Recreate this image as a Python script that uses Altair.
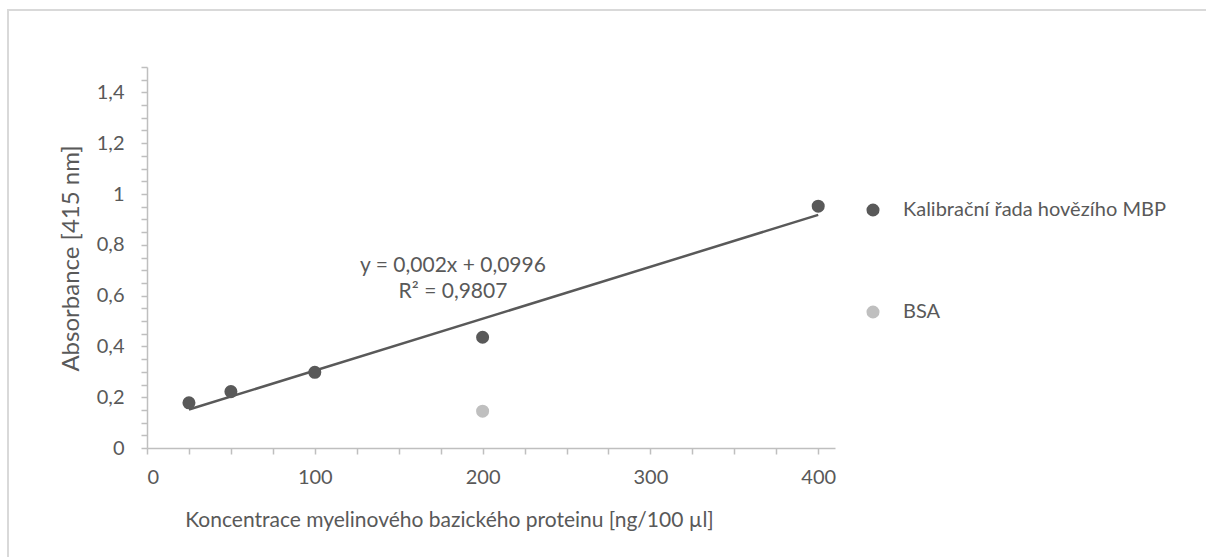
import altair as alt
import pandas as pd

# ---- data ----
mbp_conc = [25, 50, 100, 200, 400]
mbp_abs = [0.178, 0.222, 0.298, 0.436, 0.952]
bsa_conc = [200]
bsa_abs = [0.145]

series_names = ["Kalibrační řada hovězího MBP", "BSA"]
series_colors = ["#595959", "#bfbfbf"]

eq_text = "y = 0,002x + 0,0996"
r2_text = "R² = 0,9807"

x_title = "Koncentrace myelinového bazického proteinu [ng/100 µl]"
y_title = "Absorbance [415 nm]"

x_tick_values = [0, 25, 50, 75, 100, 125, 150, 175, 200, 225, 250, 275, 300, 325, 350, 375, 400]
y_tick_values = [round(i * 0.05, 2) for i in range(31)]

FONT = "Lato"
TXT = "#595959"
AX = "#bfbfbf"

pts = pd.DataFrame({
    "conc": mbp_conc + bsa_conc,
    "abs": mbp_abs + bsa_abs,
    "series": [series_names[0]] * len(mbp_conc) + [series_names[1]] * len(bsa_conc),
})
mbp = pd.DataFrame({"conc": mbp_conc, "abs": mbp_abs})

xscale = alt.Scale(domain=[0, 410], nice=False, zero=False)
yscale = alt.Scale(domain=[0, 1.5], nice=False)

x_axis = alt.Axis(
    values=x_tick_values,
    labelExpr="datum.value % 100 == 0 ? datum.label : ''",
    grid=False, domainColor=AX, domainWidth=1.5, tickColor=AX, tickWidth=1.5, tickSize=6,
    labelColor=TXT, labelFont=FONT, labelFontSize=20, labelPadding=13,
    title=x_title, titleColor=TXT, titleFont=FONT, titleFontSize=21, titleFontWeight="normal",
    titleX=302, titleY=72, titleAlign="center", titleBaseline="middle", titleAnchor="start",
)
y_axis = alt.Axis(
    values=y_tick_values,
    labelExpr="(abs(datum.value*5 - round(datum.value*5)) < 0.001) ? replace(format(datum.value, '~g'), '.', ',') : ''",
    grid=False, domainColor=AX, domainWidth=1.5, tickColor=AX, tickWidth=1.5, tickSize=6,
    labelColor=TXT, labelFont=FONT, labelFontSize=20, labelPadding=17,
    title=y_title, titleColor=TXT, titleFont=FONT, titleFontSize=24, titleFontWeight="normal",
    titleX=-76, titleY=191, titleAngle=270, titleAlign="center", titleBaseline="middle", titleAnchor="start",
)

border_df = pd.DataFrame({"k": [0]})
border_left = alt.Chart(border_df).mark_rule(color="#d9d9d9", strokeWidth=2).encode(
    x=alt.value(-139), y=alt.value(-57), y2=alt.value(500))
border_top = alt.Chart(border_df).mark_rule(color="#d9d9d9", strokeWidth=2).encode(
    x=alt.value(-140), x2=alt.value(1100), y=alt.value(-57))

trend = alt.Chart(mbp).transform_regression("conc", "abs", extent=[25, 400]).mark_line(
    color="#595959", strokeWidth=2.5).encode(
    x=alt.X("conc:Q", scale=xscale, axis=x_axis),
    y=alt.Y("abs:Q", scale=yscale, axis=y_axis),
)

points = alt.Chart(pts).mark_circle(size=170, opacity=1).encode(
    x=alt.X("conc:Q", scale=xscale, axis=x_axis),
    y=alt.Y("abs:Q", scale=yscale, axis=y_axis),
    color=alt.Color("series:N", scale=alt.Scale(domain=series_names, range=series_colors),
                    sort=series_names,
                    legend=alt.Legend(title=None, orient="none", legendX=716, legendY=133,
                                      direction="vertical", symbolType="circle", symbolSize=170,
                                      symbolStrokeWidth=0, labelFont=FONT, labelFontSize=20,
                                      labelColor=TXT, labelOffset=20, labelLimit=0,
                                      rowPadding=82, padding=0)),
)

txt_df = pd.DataFrame({"k": [0]})
eq = alt.Chart(txt_df).mark_text(font=FONT, fontSize=21, color=TXT, align="center", baseline="middle").encode(
    x=alt.value(306), y=alt.value(199), text=alt.value(eq_text))
r2 = alt.Chart(txt_df).mark_text(font=FONT, fontSize=21, color=TXT, align="center", baseline="middle").encode(
    x=alt.value(306), y=alt.value(225), text=alt.value(r2_text))

chart = alt.layer(border_left, border_top, trend, points, eq, r2).properties(
    width=688, height=381,
    autosize=alt.AutoSizeParams(type="none"),
    padding={"left": 147, "top": 67, "right": 371, "bottom": 109},
    background="white",
).configure_view(stroke=None)

chart.save("out.html", embed_options={"renderer": "svg", "actions": False})
